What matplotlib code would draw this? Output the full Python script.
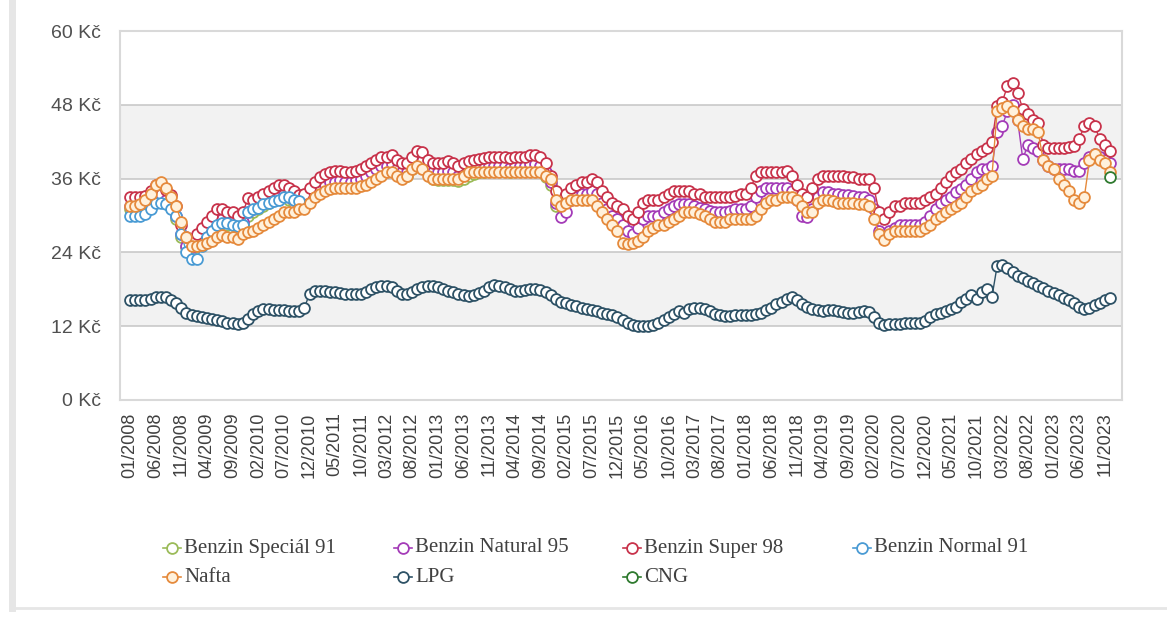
import numpy as np
import matplotlib
matplotlib.use("Agg")
import matplotlib.pyplot as plt
from matplotlib.lines import Line2D

# ---------------- data (monthly, 01/2008 .. 12/2023) ----------------
tick_labels = ["01/2008", "06/2008", "11/2008", "04/2009", "09/2009", "02/2010", "07/2010",
               "12/2010", "05/2011", "10/2011", "03/2012", "08/2012", "01/2013", "06/2013",
               "11/2013", "04/2014", "09/2014", "02/2015", "07/2015", "12/2015", "05/2016",
               "10/2016", "03/2017", "08/2017", "01/2018", "06/2018", "11/2018", "04/2019",
               "09/2019", "02/2020", "07/2020", "12/2020", "05/2021", "10/2021", "03/2022",
               "08/2022", "01/2023", "06/2023", "11/2023"]

super98 = [
    33.0, 33.0, 33.0, 33.2, 34.0, 35.0, 35.2, 34.2, 33.3, 31.5, 28.5, 26.5,
    26.0, 27.0, 28.0, 29.0, 30.0, 31.0, 31.0, 30.5, 30.5, 30.0, 30.5, 32.8,
    32.5, 33.0, 33.5, 34.0, 34.5, 35.0, 35.0, 34.5, 34.0, 33.3, 33.5, 34.5,
    35.5, 36.2, 36.8, 37.0, 37.2, 37.2, 37.0, 37.0, 37.2, 37.5, 38.0, 38.5,
    39.0, 39.5, 39.5, 39.8, 39.0, 38.5, 38.5, 39.5, 40.5, 40.3, 39.0, 38.5,
    38.5, 38.5, 38.8, 38.5, 38.0, 38.5, 38.8, 39.0, 39.2, 39.3, 39.5, 39.5,
    39.5, 39.5, 39.3, 39.5, 39.5, 39.5, 39.8, 39.8, 39.5, 38.5, 36.5, 34.0,
    32.0, 33.5, 34.5, 35.0, 35.5, 35.5, 36.0, 35.5, 34.0, 33.0, 32.0, 31.5,
    31.0, 30.0, 29.5, 30.5, 32.0, 32.5, 32.5, 32.5, 33.0, 33.5, 34.0, 34.0,
    34.0, 34.0, 33.5, 33.5, 33.0, 33.0, 33.0, 33.0, 33.0, 33.0, 33.2, 33.5,
    33.5, 34.5, 36.5, 37.0, 37.0, 37.0, 37.0, 37.0, 37.2, 36.5, 35.0, 33.5,
    33.0, 34.5, 36.0, 36.5, 36.5, 36.5, 36.5, 36.5, 36.3, 36.3, 36.0, 36.0,
    36.0, 34.5, 30.5, 29.5, 30.5, 31.5, 31.5, 32.0, 32.0, 32.0, 32.0, 32.5,
    33.0, 33.5, 34.5, 35.5, 36.5, 37.0, 37.5, 38.5, 39.2, 40.0, 40.5, 41.0,
    42.0, 47.8, 48.5, 51.0, 51.5, 50.0, 47.3, 46.5, 45.5, 45.0, 41.5, 41.0,
    41.0, 41.0, 41.0, 41.2, 41.3, 42.5, 44.5, 45.0, 44.5, 42.5, 41.5, 40.5,
]

natural95 = [
    31.5, 31.5, 31.6, 32.0, 32.8, 33.8, 33.5, 32.5, 31.8, 30.0, 27.0, 25.0,
    24.8, 25.5, 26.5, 27.5, 28.5, 29.5, 29.5, 29.0, 29.0, 28.5, 29.0, 30.5,
    31.0, 31.5, 32.0, 32.5, 33.0, 33.5, 33.5, 33.0, 32.5, 32.3, 32.0, 33.0,
    34.0, 34.5, 35.0, 35.5, 35.5, 35.7, 35.5, 35.5, 35.7, 36.0, 36.5, 37.0,
    37.5, 38.0, 38.0, 38.3, 37.5, 37.0, 37.0, 38.0, 39.0, 38.8, 37.5, 37.0,
    37.0, 37.0, 37.3, 37.0, 36.5, 37.0, 37.3, 37.5, 37.7, 37.8, 38.0, 38.0,
    38.0, 38.0, 37.8, 38.0, 38.0, 38.0, 38.3, 38.3, 38.0, 37.0, 35.5, 32.0,
    29.7, 30.5, 32.5, 33.0, 33.5, 33.5, 34.0, 33.5, 32.0, 31.0, 30.0, 29.5,
    28.5, 27.5, 27.0, 28.0, 29.5, 30.0, 30.0, 30.0, 30.5, 31.0, 31.5, 31.8,
    31.8, 31.8, 31.5, 31.3, 31.0, 30.8, 30.5, 30.5, 30.5, 30.8, 31.0, 31.0,
    31.0, 31.5, 33.0, 34.0, 34.5, 34.5, 34.5, 34.5, 34.5, 34.0, 32.5, 30.0,
    29.7, 31.0, 33.0, 33.8, 33.8, 33.5, 33.5, 33.3, 33.3, 33.2, 33.0, 33.0,
    32.5, 31.0, 27.5, 26.5, 27.5, 28.0, 28.5, 28.5, 28.5, 28.5, 28.5, 29.0,
    30.0, 31.0, 32.0, 32.5, 33.0, 33.8, 34.3, 35.0, 36.0, 37.0, 37.5, 37.5,
    38.0, 43.5, 44.5, 47.0, 48.0, 45.5, 39.2, 41.5, 41.0, 40.5, 39.0, 38.0,
    37.5, 37.5, 37.5, 37.5, 37.3, 37.3, 38.5, 39.5, 40.0, 39.5, 39.0, 38.5,
]

special91 = [
    31.0, 31.0, 31.2, 31.5, 32.3, 33.3, 33.0, 32.0, 31.3, 29.5, 26.5, 24.8,
    24.5, 25.0, 26.0, 27.0, 28.0, 29.0, 29.0, 28.5, 28.5, 28.0, 28.5, 30.0,
    30.5, 31.0, 31.5, 32.0, 32.5, 33.0, 33.0, 32.5, 32.0, 31.8, 31.5, 32.5,
    33.5, 34.0, 34.3, 34.8, 35.0, 35.0, 34.8, 34.8, 35.0, 35.3, 35.8, 36.3,
    36.8, 37.2, 37.3, 37.5, 37.0, 36.5, 36.5, 37.5, 38.3, 38.0, 37.0, 36.0,
    35.8, 35.8, 35.8, 35.8, 35.6, 36.0, 36.5, 36.8, 37.0, 37.0, 37.2, 37.2,
    37.2, 37.2, 37.0, 37.2, 37.2, 37.2, 37.5, 37.5, 37.2, 36.3, 35.0, 31.5,
]

normal91 = [
    30.0, 30.0, 30.0, 30.2, 31.0, 32.0, 32.0, 31.8, 31.0, 30.0, 27.0, 24.0,
    23.0, 22.9, 25.0, 26.5, 27.5, 28.5, 28.8, 28.8, 28.5, 28.3, 28.5, 30.5,
    31.0, 31.3, 31.8, 32.0, 32.3, 32.6, 33.0, 33.0, 32.5, 32.3,
]

nafta = [
    31.5, 31.5, 31.8, 32.5, 33.5, 35.0, 35.5, 34.5, 33.0, 31.5, 29.0, 26.5,
    25.0, 25.0, 25.2, 25.5, 25.8, 26.5, 26.8, 26.5, 26.5, 26.2, 27.0, 27.3,
    27.5, 28.0, 28.5, 29.0, 29.5, 30.0, 30.5, 30.5, 30.5, 31.0, 31.0, 32.0,
    33.0, 33.5, 34.0, 34.3, 34.5, 34.5, 34.5, 34.5, 34.5, 34.8, 35.0, 35.5,
    36.0, 36.5, 37.0, 37.0, 36.5, 36.0, 36.5, 37.5, 38.0, 37.5, 36.5, 36.0,
    36.0, 36.0, 36.0, 36.0, 36.0, 36.5, 37.0, 37.0, 37.0, 37.0, 37.0, 37.0,
    37.0, 37.0, 37.0, 37.0, 37.0, 37.0, 37.0, 37.0, 37.0, 36.5, 36.0, 32.5,
    31.5, 32.0, 32.5, 32.5, 32.5, 32.5, 32.5, 31.5, 30.5, 29.5, 28.5, 27.5,
    25.5, 25.3, 25.5, 25.8, 26.5, 27.5, 28.0, 28.5, 28.5, 29.0, 29.5, 30.0,
    30.5, 30.5, 30.5, 30.3, 30.0, 29.5, 29.0, 29.0, 29.0, 29.5, 29.5, 29.5,
    29.5, 29.5, 30.0, 31.0, 32.0, 32.5, 32.5, 33.0, 33.0, 33.0, 32.5, 31.5,
    30.5, 30.5, 32.0, 32.5, 32.5, 32.3, 32.0, 32.0, 32.0, 32.0, 31.8, 31.8,
    31.5, 29.5, 27.0, 26.0, 27.0, 27.5, 27.5, 27.5, 27.5, 27.5, 27.5, 28.0,
    28.5, 29.5, 30.0, 30.5, 31.0, 31.5, 32.0, 33.0, 34.0, 34.5, 35.0, 36.0,
    36.5, 47.0, 47.5, 47.8, 47.0, 45.5, 44.5, 44.0, 44.0, 43.5, 39.0, 38.0,
    37.5, 36.0, 35.0, 34.0, 32.5, 32.0, 33.0, 39.0, 40.0, 39.0, 38.5, 37.0,
]

lpg = [
    16.3, 16.3, 16.3, 16.3, 16.5, 16.7, 16.8, 16.7, 16.3, 15.8, 15.0, 14.2,
    13.8, 13.6, 13.5, 13.3, 13.2, 13.0, 12.8, 12.6, 12.5, 12.3, 12.5, 13.2,
    14.0, 14.5, 14.8, 14.8, 14.7, 14.7, 14.6, 14.5, 14.5, 14.4, 15.0, 17.3,
    17.8, 17.8, 17.7, 17.6, 17.5, 17.4, 17.3, 17.2, 17.2, 17.3, 17.6, 18.0,
    18.4, 18.6, 18.5, 18.3, 17.8, 17.3, 17.2, 17.6, 18.0, 18.3, 18.5, 18.5,
    18.3, 18.0, 17.8, 17.5, 17.2, 17.0, 16.9, 17.0, 17.4, 17.8, 18.3, 18.7,
    18.6, 18.3, 18.0, 17.8, 17.8, 17.9, 18.0, 18.0, 17.9, 17.5, 17.0, 16.5,
    16.0, 15.7, 15.5, 15.3, 15.0, 14.8, 14.6, 14.4, 14.2, 14.0, 13.8, 13.5,
    13.0, 12.5, 12.2, 12.0, 12.0, 12.0, 12.2, 12.6, 13.0, 13.5, 14.0, 14.5,
    14.2, 14.8, 15.0, 15.0, 14.8, 14.5, 14.0, 13.8, 13.7, 13.7, 13.8, 13.8,
    13.8, 13.9, 14.0, 14.2, 14.6, 15.0, 15.6, 16.0, 16.4, 16.8, 16.3, 15.6,
    15.2, 14.8, 14.6, 14.5, 14.6, 14.7, 14.5, 14.3, 14.2, 14.2, 14.3, 14.4,
    14.3, 13.5, 12.5, 12.2, 12.3, 12.4, 12.4, 12.5, 12.5, 12.5, 12.6, 12.8,
    13.5, 14.0, 14.2, 14.5, 14.8, 15.2, 16.0, 16.5, 17.0, 16.5, 17.5, 18.0,
    16.8, 21.8, 22.0, 21.5, 20.8, 20.2, 19.8, 19.4, 19.0, 18.6, 18.2, 17.8,
    17.4, 17.0, 16.6, 16.2, 15.7, 15.2, 14.8, 15.0, 15.4, 15.8, 16.2, 16.6,
]

cng_months = [191]
cng = [36.3]

# ---------------- styling ----------------
W, H = 1167, 630
fig = plt.figure(figsize=(W / 100, H / 100), dpi=100)
fig.patch.set_facecolor("white")

ax_l, ax_r, ax_t, ax_b = 120, 1122, 31, 400
ax = fig.add_axes([ax_l / W, 1 - ax_b / H, (ax_r - ax_l) / W, (ax_b - ax_t) / H])
ax.set_facecolor("white")

series = [
    ("Benzin Speciál 91", special91, None, "#9bbb59", "#ffffff"),
    ("Benzin Natural 95", natural95, None, "#a43cb8", "#ffffff"),
    ("Benzin Super 98", super98, None, "#c8334b", "#ffffff"),
    ("Benzin Normal 91", normal91, None, "#4a9bd4", "#ffffff"),
    ("Nafta", nafta, None, "#e58a3c", "#fff1dc"),
    ("LPG", lpg, None, "#2e5266", "#ffffff"),
    ("CNG", cng, cng_months, "#2f7a2f", "#ffffff"),
]

# bands and grid
for lo, hi in [(12, 24), (36, 48)]:
    ax.axhspan(lo, hi, color="#f2f2f2", zorder=0, lw=0)
for yv in [12, 24, 36, 48]:
    ax.axhline(yv, color="#c9c9c9", lw=1.2, zorder=1)

for k, (name, vals, months, col, fc) in enumerate(series):
    xs = months if months is not None else list(range(len(vals)))
    ax.plot(xs, vals, color=col, lw=1.0, marker="o", ms=7.8, mew=1.3,
            mfc=fc, mec=col, zorder=3 + k)

step = 1.0 / 5.131
ax.set_xlim(-10 * step, 191 + 12 * step)
ax.set_ylim(0, 60)
ax.set_yticks([0, 12, 24, 36, 48, 60])
ax.set_yticklabels([f"{v} Kč" for v in [0, 12, 24, 36, 48, 60]])
ax.set_xticks(list(range(0, 191, 5)))
ax.set_xticklabels(tick_labels, rotation=90, va="top", ha="center")
ax.tick_params(axis="y", length=0, pad=14, labelsize=14, labelcolor="#505050")
ax.tick_params(axis="x", length=0, pad=9, labelsize=13, labelcolor="#404040")
for lab in ax.get_xticklabels() + ax.get_yticklabels():
    lab.set_fontfamily(["Liberation Sans", "DejaVu Sans"])
for sp in ax.spines.values():
    sp.set_color("#d9d9d9")
    sp.set_linewidth(1.5)

# outer frame lines (left and bottom of the card)
fig.add_artist(Line2D([12 / W, 12 / W], [1 - 608 / H, 1.0], color="#e6e6e6", lw=5))
fig.add_artist(Line2D([12 / W, 1.0], [1 - 608 / H, 1 - 608 / H], color="#e6e6e6", lw=2))

# legend (manual, row-major)
leg_cols = [172, 403, 632, 862]
leg_rows = [548, 577]
for k, (name, vals, months, col, fc) in enumerate(series):
    r, c = divmod(k, 4)
    x0, y0 = leg_cols[c], leg_rows[r]
    fig.add_artist(Line2D([(x0 - 9) / W, (x0 + 9) / W], [1 - y0 / H, 1 - y0 / H],
                          color=col, lw=1.2))
    fig.add_artist(Line2D([x0 / W], [1 - y0 / H], marker="o", ms=7.8, mew=1.3,
                          mec=col, mfc=fc, lw=0))
    fig.text((x0 + 12) / W, 1 - y0 / H, name, fontsize=15, color="#404040",
             va="center", ha="left", family=["Liberation Serif", "DejaVu Serif"])

fig.savefig("out.png", dpi=100)
